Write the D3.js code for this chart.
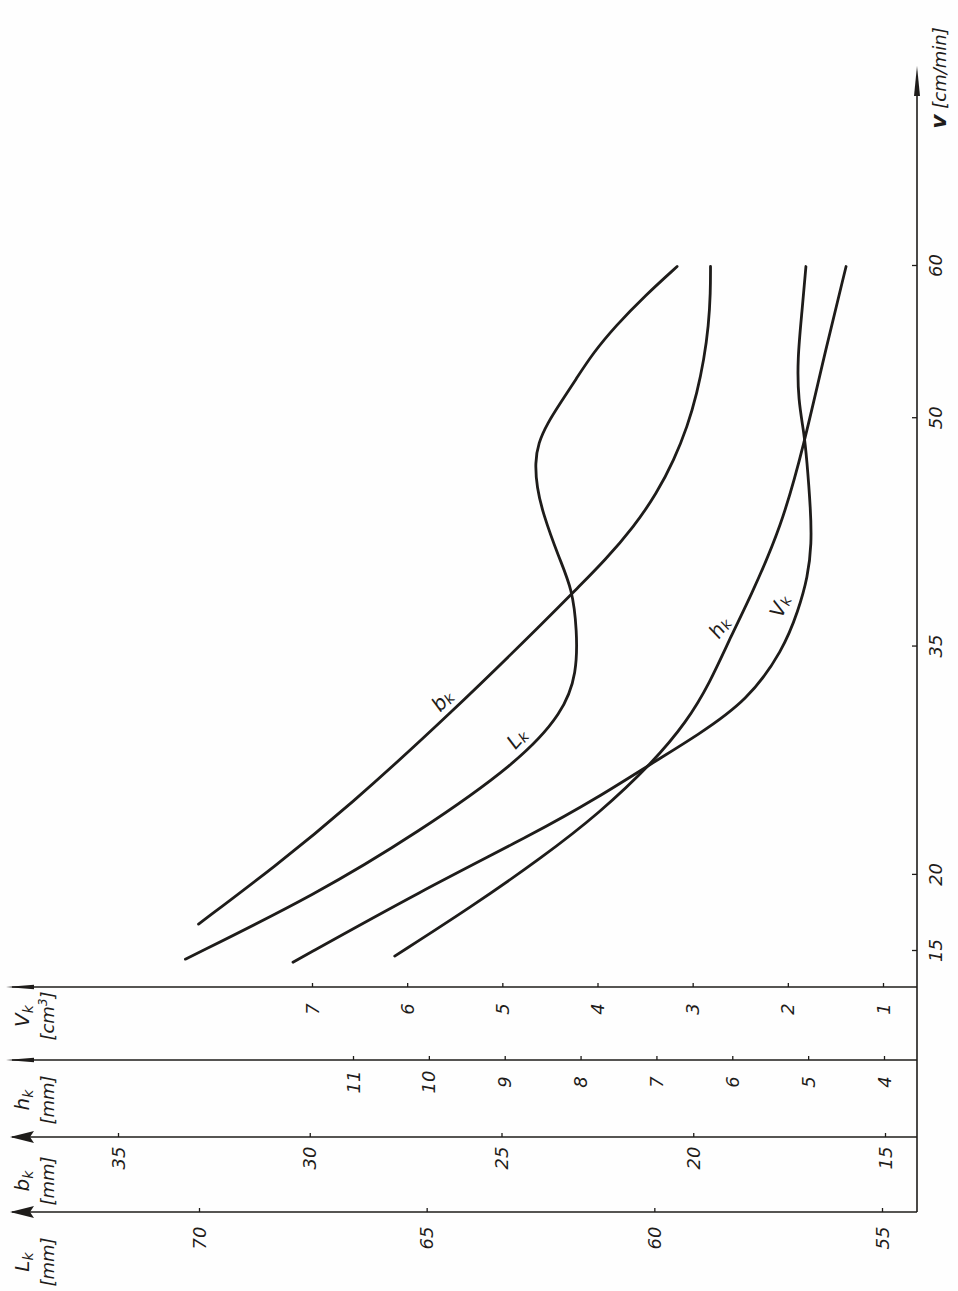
<!DOCTYPE html>
<html>
<head>
<meta charset="utf-8">
<script src="https://cdn.jsdelivr.net/npm/d3@7"></script>
<style>
  body { margin: 0; background: #fff; }
  text { font-family: "DejaVu Sans", sans-serif; font-style: italic; fill: #1e1c1a; }
</style>
</head>
<body>
<svg id="chart" width="958" height="1291"></svg>
<script>
// tick labels
var vTicks = [15, 20, 35, 50, 60];
var lkTicks = [55, 60, 65, 70];
var bkTicks = [15, 20, 25, 30, 35];
var hkTicks = [4, 5, 6, 7, 8, 9, 10, 11];
var vkTicks = [1, 2, 3, 4, 5, 6, 7];

// curves: speed v [cm/min] and the value on each curve's own axis
var lkV   = [14.4, 18.7, 22.7, 27.3, 30.6, 33.2, 36.0, 38.7, 40.8, 43.7, 45.4, 47.0, 48.3, 49.6, 51.0, 52.5, 54.2, 56.0, 58.0, 59.9];
var lkVal = [70.3, 67.4, 65.2, 63.0, 62.0, 61.7, 61.7, 61.8, 62.1, 62.45, 62.58, 62.62, 62.55, 62.35, 62.05, 61.72, 61.35, 60.85, 60.2, 59.5];

var bkV   = [16.7, 20.5, 24.4, 30.6, 36.9, 38.7, 40.6, 42.8, 45.0, 47.2, 49.4, 51.6, 53.8, 56.0, 58.2, 59.9];
var bkVal = [32.9, 30.9, 29.0, 26.3, 23.75, 23.05, 22.3, 21.55, 20.95, 20.5, 20.15, 19.9, 19.72, 19.6, 19.55, 19.55];

var hkV   = [14.6, 17.8, 21.1, 24.0, 27.3, 30.0, 32.5, 35.8, 38.0, 42.8, 48.3, 53.8, 59.9];
var hkVal = [10.45, 9.45, 8.5, 7.75, 7.05, 6.6, 6.3, 6.0, 5.78, 5.35, 5.05, 4.8, 4.5];

var vkV   = [14.2, 18.9, 22.7, 25.0, 27.3, 29.1, 31.4, 34.7, 37.3, 39.5, 41.7, 43.9, 47.2, 49.0, 51.1, 53.8, 57.0, 59.9];
var vkVal = [7.2, 5.85, 4.65, 4.0, 3.42, 2.95, 2.42, 2.05, 1.89, 1.79, 1.75, 1.76, 1.8, 1.83, 1.89, 1.9, 1.85, 1.81];

var svg = d3.select("#chart");
var ink = "#1e1c1a";

// the drawing is turned by 90 degrees: v runs upwards, values run to the left
var yScale = d3.scaleLinear().domain([15, 60]).range([950, 265]);
var xL = d3.scaleLinear().domain([55, 70]).range([882, 199]);
var xB = d3.scaleLinear().domain([15, 35]).range([885, 118]);
var xH = d3.scaleLinear().domain([4, 11]).range([884, 353]);
var xVk = d3.scaleLinear().domain([1, 7]).range([883, 312]);

var axisX = 917;

svg.append("rect").attr("width", 958).attr("height", 1291).attr("fill", "#fefefe");

// label with subscript k (and optional second line)
function addLabel(g, main, sub, second, sup) {
    var t = g.append("text").attr("text-anchor", "middle").attr("font-size", 20);
    t.append("tspan").text(main);
    t.append("tspan").attr("font-size", 14).attr("dy", 4).text(sub);
    if (second) {
        var t2 = g.append("text").attr("text-anchor", "middle").attr("font-size", 18).attr("y", 25);
        t2.append("tspan").text(second);
        if (sup) {
            t2.append("tspan").attr("font-size", 12).attr("dy", -7).text(sup);
            t2.append("tspan").attr("dy", 7).text("]");
        }
    }
    return t;
}

// value axes along the bottom
var rows = [
    { scale: xVk, ticks: vkTicks, y: 987, main: "V", second: "[cm", sup: "3", labY: 1016, lab: 22, slim: true },
    { scale: xH,  ticks: hkTicks, y: 1060, main: "h", second: "[mm]", labY: 1100, lab: 22, slim: true },
    { scale: xB,  ticks: bkTicks, y: 1137, main: "b", second: "[mm]", labY: 1181, lab: 21, slim: false },
    { scale: xL,  ticks: lkTicks, y: 1212, main: "L", second: "[mm]", labY: 1262, lab: 26, slim: false }
];

rows.forEach(r => {
    var g = svg.append("g").attr("transform", `translate(0,${r.y})`);

    g.append("line")
        .attr("x1", 12).attr("x2", axisX)
        .attr("stroke", ink).attr("stroke-width", 1.6);

    if (r.slim) {
        g.append("path").attr("d", "M6,0 L34,-2.2 L34,2.2 Z").attr("fill", ink);
    } else {
        g.append("path").attr("d", "M10,0 L34,-6 L30,0 L34,6 Z").attr("fill", ink);
    }

    var ax = g.append("g").call(d3.axisTop(r.scale).tickValues(r.ticks)
        .tickFormat(d3.format("d")).tickSize(4).tickSizeOuter(0));
    ax.select(".domain").remove();
    ax.selectAll(".tick line").attr("stroke", ink).attr("stroke-width", 1.3);
    ax.selectAll(".tick text")
        .attr("y", null).attr("dy", null)
        .attr("text-anchor", "middle")
        .attr("font-size", 18)
        .attr("font-family", null)
        .attr("fill", ink)
        .attr("transform", `translate(6,${r.lab}) rotate(-90)`);

    var lg = svg.append("g").attr("transform", `translate(29,${r.labY}) rotate(-90)`);
    addLabel(lg, r.main, "k", r.second, r.sup);
});

// v axis on the right
svg.append("line")
    .attr("x1", axisX).attr("x2", axisX)
    .attr("y1", 80).attr("y2", 1212)
    .attr("stroke", ink).attr("stroke-width", 1.6);
svg.append("path")
    .attr("d", `M${axisX},66 L${axisX - 3},96 L${axisX + 3},96 Z`)
    .attr("fill", ink);

var vAxis = svg.append("g")
    .attr("transform", `translate(${axisX},0)`)
    .call(d3.axisLeft(yScale).tickValues(vTicks).tickFormat(d3.format("d"))
        .tickSize(5).tickSizeOuter(0));
vAxis.select(".domain").remove();
vAxis.selectAll(".tick line").attr("stroke", ink).attr("stroke-width", 1.3);
vAxis.selectAll(".tick text")
    .attr("x", null).attr("dy", null)
    .attr("text-anchor", "middle")
    .attr("font-size", 18)
    .attr("font-family", null)
    .attr("fill", ink)
    .attr("transform", "translate(25,0) rotate(-90)");

var vLab = svg.append("text")
    .attr("transform", "translate(946,78) rotate(-90)")
    .attr("text-anchor", "middle")
    .attr("font-size", 18);
vLab.append("tspan").attr("font-weight", "bold").attr("font-size", 22).text("v");
vLab.append("tspan").text(" [cm/min]");

// curves
var curves = [
    { v: bkV, val: bkVal, scale: xB, name: "b", labV: 31.4, dx: -22, rot: -48 },
    { v: lkV, val: lkVal, scale: xL, name: "L", labV: 28.9, dx: -23, rot: -48 },
    { v: hkV, val: hkVal, scale: xH, name: "h", labV: 36.2, dx: -16, rot: -55 },
    { v: vkV, val: vkVal, scale: xVk, name: "V", labV: 37.6, dx: -20, rot: -68 }
];

curves.forEach(c => {
    var pts = c.v.map((v, i) => [v, c.val[i]]);
    var line = d3.line()
        .x(d => c.scale(d[1]))
        .y(d => yScale(d[0]))
        .curve(d3.curveBasis);

    svg.append("path")
        .datum(pts)
        .attr("d", line)
        .attr("fill", "none")
        .attr("stroke", ink)
        .attr("stroke-width", 2.8)
        .attr("stroke-linecap", "round");

    var at = d3.scaleLinear().domain(c.v).range(c.val);
    var lx = c.scale(at(c.labV)) + c.dx;
    var ly = yScale(c.labV);
    var lt = svg.append("text")
        .attr("transform", `translate(${lx},${ly}) rotate(${c.rot})`)
        .attr("text-anchor", "middle")
        .attr("dominant-baseline", "central")
        .attr("font-size", 20);
    lt.append("tspan").text(c.name);
    lt.append("tspan").attr("font-size", 14).attr("dy", 4).text("k");
});
</script>
</body>
</html>
